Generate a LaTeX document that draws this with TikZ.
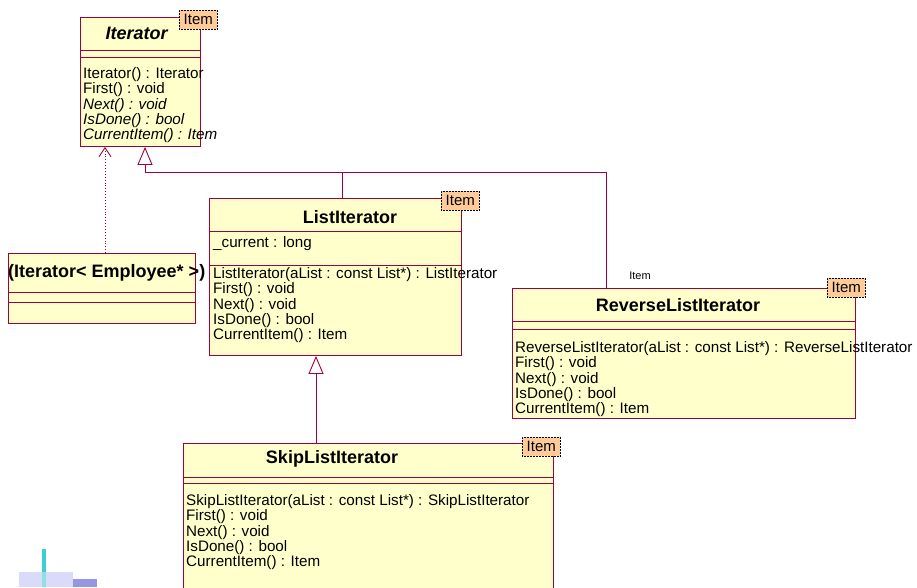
\documentclass[tikz,border=0pt]{standalone}
\usepackage{fontspec}
\setmainfont{Liberation Sans}
\usetikzlibrary{arrows.meta,calc}
\definecolor{umlfill}{HTML}{FFFFCC}
\definecolor{umlline}{HTML}{A00040}
\definecolor{tagfill}{HTML}{FFCC99}
\definecolor{decocyan}{HTML}{3CCFCF}
\definecolor{decolav}{HTML}{DADAFA}
\definecolor{decopurp}{HTML}{9696E2}
\tikzset{
  classbox/.style={rectangle, draw=umlline, line width=0.9pt, fill=umlfill, anchor=north west, inner sep=0pt},
  tagbox/.style={rectangle, draw=black, densely dotted, line width=0.5pt, fill=tagfill, anchor=north west,
                 font=\fontsize{15}{15}\selectfont, inner sep=0pt, minimum width=38pt, minimum height=19pt},
  classname/.style={font=\fontsize{18}{18}\selectfont\bfseries, inner sep=0pt},
  members/.style={font=\fontsize{15.2}{15.4}\selectfont, align=left, anchor=north west, inner sep=0pt},
  sep/.style={draw=umlline, line width=0.9pt},
  gen/.style={-{Triangle[length=18pt, width=15pt, fill=white]}, draw=umlline, line width=0.9pt},
  dep/.style={-{Straight Barb[length=9pt, width=12pt]}, draw=umlline, line width=0.9pt, dotted},
}
\begin{document}
\begin{tikzpicture}[x=1pt, y=-1pt]
    \clip (0,0) rectangle (917,587);
    \fill[white] (0,0) rectangle (917,587);
    \node[classbox, minimum width=120pt, minimum height=129pt] (iter) at (80,17) {};
    \node[classbox, minimum width=187pt, minimum height=70pt] (emp) at (8,253) {};
    \node[classbox, minimum width=252pt, minimum height=157pt] (list) at (209,198) {};
    \node[classbox, minimum width=343pt, minimum height=130pt] (rev) at (512,288) {};
    \node[classbox, minimum width=370pt, minimum height=160pt] (skip) at (183,443) {};
    \draw[sep] ($(iter.north west)+(0,33)$) -- ($(iter.north east)+(0,33)$);
    \draw[sep] ($(iter.north west)+(0,40)$) -- ($(iter.north east)+(0,40)$);
    \draw[sep] ($(emp.north west)+(0,39)$) -- ($(emp.north east)+(0,39)$);
    \draw[sep] ($(emp.north west)+(0,49)$) -- ($(emp.north east)+(0,49)$);
    \draw[sep] ($(list.north west)+(0,33)$) -- ($(list.north east)+(0,33)$);
    \draw[sep] ($(list.north west)+(0,67)$) -- ($(list.north east)+(0,67)$);
    \draw[sep] ($(rev.north west)+(0,33)$) -- ($(rev.north east)+(0,33)$);
    \draw[sep] ($(rev.north west)+(0,41)$) -- ($(rev.north east)+(0,41)$);
    \draw[sep] ($(skip.north west)+(0,34)$) -- ($(skip.north east)+(0,34)$);
    \draw[sep] ($(skip.north west)+(0,40)$) -- ($(skip.north east)+(0,40)$);
    \node[tagbox] (itertag) at (179,10) {Item};
    \node[tagbox] (listtag) at (441,191) {Item};
    \node[tagbox] (revtag) at (827,278) {Item};
    \node[tagbox] (skiptag) at (522,437) {Item};
    \node[classname] (itername) at (137,33) {\textit{Iterator}};
    \node[classname, anchor=west] (empname) at (8,273) {(Iterator< Employee* >)};
    \node[classname] (listname) at (350,217) {ListIterator};
    \node[classname] (revname) at (678,305) {ReverseListIterator};
    \node[classname] (skipname) at (332,459) {SkipListIterator};
    \node[members] (itermeth) at (83,67) {Iterator() : Iterator\\First() : void\\\textit{Next() : void}\\\textit{IsDone() : bool}\\\textit{CurrentItem() : Item}};
    \node[members] (listattr) at (213,236) {\_current : long};
    \node[members] (listmeth) at (213,267) {ListIterator(aList : const List*) : ListIterator\\First() : void\\Next() : void\\IsDone() : bool\\CurrentItem() : Item};
    \node[members] (revmeth) at (515,341) {ReverseListIterator(aList : const List*) : ReverseListIterator\\First() : void\\Next() : void\\IsDone() : bool\\CurrentItem() : Item};
    \node[members] (skipmeth) at (186,494) {SkipListIterator(aList : const List*) : SkipListIterator\\First() : void\\Next() : void\\IsDone() : bool\\CurrentItem() : Item};
    \node[font=\fontsize{11}{11}\selectfont] (revlbl) at (640,276) {Item};
    \coordinate (bus) at (145,172);
    \coordinate (busend) at (606,172);
    \coordinate (lj) at (342,172);
    \coordinate (sj) at (316,400);
    \coordinate (dj) at (105,200);
    \draw[gen] (rev.north -| busend) -- (busend) -- (bus) -- (iter.south -| bus);
    \draw[sep] (list.north -| lj) -- (lj);
    \draw[gen] (skip.north -| sj) -- (list.south -| sj);
    \draw[dep] (emp.north -| dj) -- (iter.south -| dj);
    \fill[decocyan] (42,549) rectangle (46,587);
    \fill[decolav] (19,572) rectangle (73,587);
    \fill[decocyan!60] (42,572) rectangle (46,587);
    \fill[decopurp] (73,579) rectangle (97,587);
  \end{tikzpicture}
\end{document}
